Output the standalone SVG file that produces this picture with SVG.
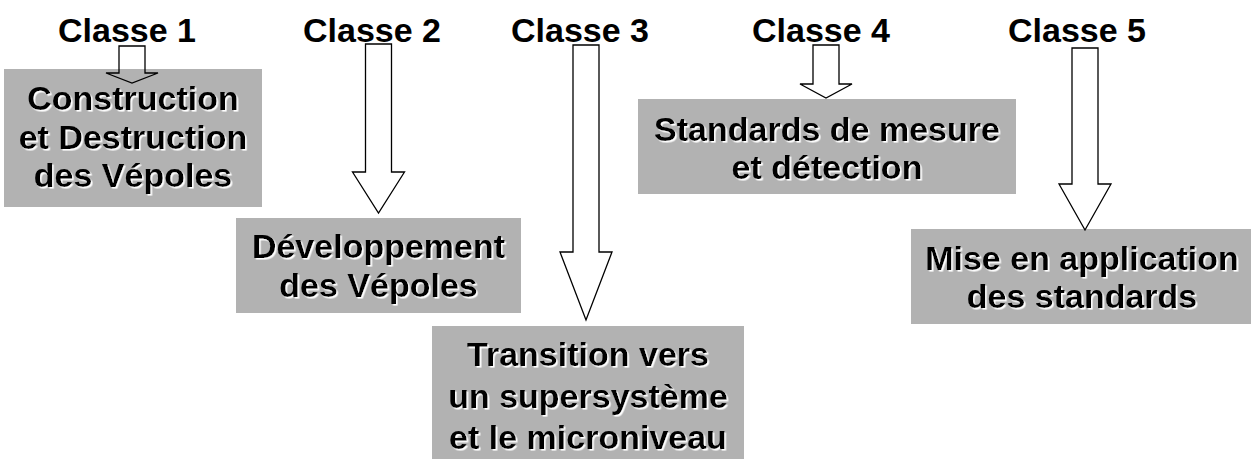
<svg xmlns="http://www.w3.org/2000/svg" width="1251" height="459" viewBox="0 0 1251 459">
  <defs>
    <!-- light embossed shadow under the box captions -->
    <filter id="emboss" x="-5%" y="-5%" width="110%" height="120%">
      <feDropShadow dx="1.6" dy="1.6" stdDeviation="0.3" flood-color="#ffffff" flood-opacity="1"/>
    </filter>
  </defs>
  <style>
    .title { font-family: "Liberation Sans", Arial, sans-serif; font-weight: bold; font-size: 34px; fill: #000; text-anchor: middle; }
    .box { fill: #b2b2b2; stroke: none; }
    .cap { font-family: "Liberation Sans", Arial, sans-serif; font-weight: bold; font-size: 34px; fill: #000; text-anchor: middle; filter: url(#emboss); }
    .arrow { fill: none; stroke: #000; stroke-width: 1.3; stroke-linejoin: miter; }
  </style>
  <rect width="1251" height="459" fill="#ffffff"/>

  <!-- class headings -->
  <g id="classe1"><text class="title" x="127" y="42">Classe 1</text></g>
  <g id="classe2"><text class="title" x="372" y="42">Classe 2</text></g>
  <g id="classe3"><text class="title" x="580" y="42">Classe 3</text></g>
  <g id="classe4"><text class="title" x="821" y="42">Classe 4</text></g>
  <g id="classe5"><text class="title" x="1077" y="42">Classe 5</text></g>

  <!-- standard groups -->
  <g id="construction">
    <rect class="box" x="4" y="69" width="258" height="138"/>
    <text class="cap" x="133" y="110">Construction</text>
    <text class="cap" x="133" y="148.5">et Destruction</text>
    <text class="cap" x="133" y="187">des Vépoles</text>
  </g>
  <g id="developpement">
    <rect class="box" x="236" y="218" width="285" height="95"/>
    <text class="cap" x="378.5" y="258">Développement</text>
    <text class="cap" x="378.5" y="297">des Vépoles</text>
  </g>
  <g id="transition">
    <rect class="box" x="432" y="326" width="312" height="133"/>
    <text class="cap" x="588" y="366">Transition vers</text>
    <text class="cap" x="588" y="408">un supersystème</text>
    <text class="cap" x="588" y="449">et le microniveau</text>
  </g>
  <g id="mesure">
    <rect class="box" x="638" y="99" width="378" height="95"/>
    <text class="cap" x="827" y="141">Standards de mesure</text>
    <text class="cap" x="827" y="179">et détection</text>
  </g>
  <g id="application">
    <rect class="box" x="911" y="229" width="340" height="95"/>
    <text class="cap" x="1082" y="270">Mise en application</text>
    <text class="cap" x="1082" y="308">des standards</text>
  </g>

  <!-- block arrows from each heading down to its group -->
  <g id="connectors">
    <polygon class="arrow" points="119,46 145,46 145,73 158,73 132,83 106,73 119,73"/>
    <polygon class="arrow" points="365.5,44 391.5,44 391.5,172 404.5,172 378.5,213 352.5,172 365.5,172"/>
    <polygon class="arrow" points="573,45 599,45 599,252 612,252 586,320 560,252 573,252"/>
    <polygon class="arrow" points="813,45 839,45 839,84 852,84 826,98 800,84 813,84"/>
    <polygon class="arrow" points="1072,48 1098,48 1098,184 1111,184 1085,230 1059,184 1072,184"/>
  </g>
</svg>
